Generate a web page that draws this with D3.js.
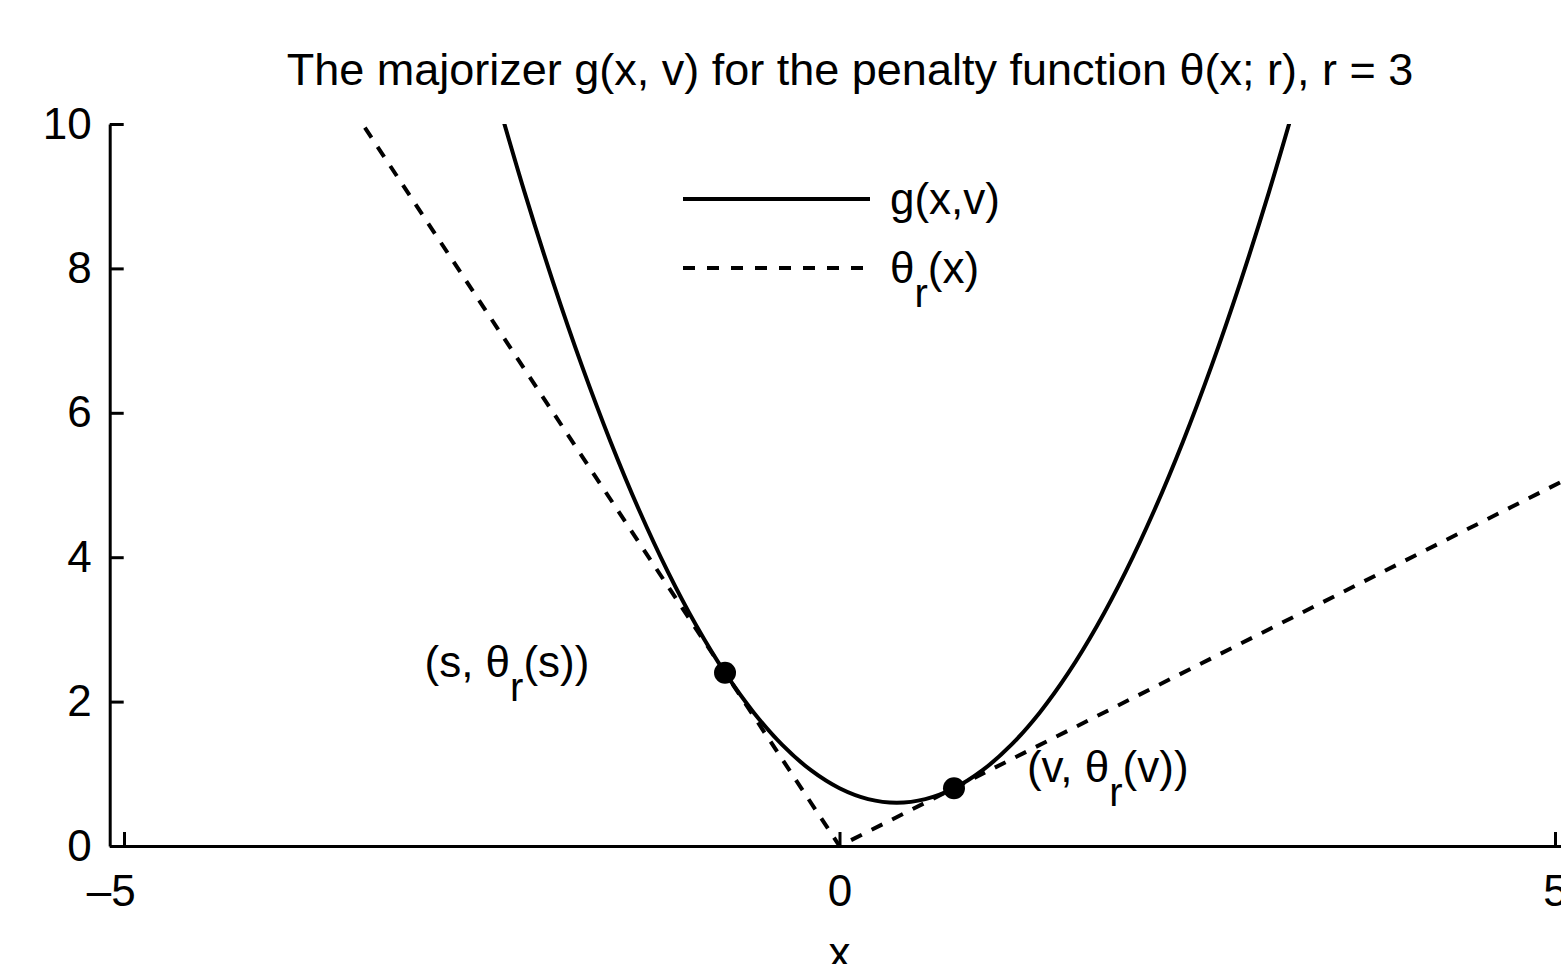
<!DOCTYPE html>
<html>
<head>
<meta charset="utf-8">
<script src="https://cdn.jsdelivr.net/npm/d3@7"></script>
<style>
  html, body { margin: 0; padding: 0; background: #fff; }
  svg { display: block; font-family: "Liberation Sans", Arial, Helvetica, sans-serif; }
</style>
</head>
<body>
<div class="container"></div>
<script>
// majorizer g(x, v)
const gX = [-2.4, -2.2, -2.0, -1.8, -1.6, -1.4, -1.2, -1.0, -0.8, -0.6, -0.4, -0.2, 0, 0.2, 0.4, 0.6, 0.8, 1.0, 1.2, 1.4, 1.6, 1.8, 2.0, 2.2, 2.4, 2.6, 2.8, 3.0, 3.2]
const gY = [10.4, 9.05, 7.8, 6.65, 5.6, 4.65, 3.8, 3.05, 2.4, 1.85, 1.4, 1.05, 0.8, 0.65, 0.6, 0.65, 0.8, 1.05, 1.4, 1.85, 2.4, 3.05, 3.8, 4.65, 5.6, 6.65, 7.8, 9.05, 10.4]

// penalty theta_r(x)
const thetaX = [-5, 0, 5.1]
const thetaY = [15, 0, 5.1]

// touching points s and v
const pointX = [-0.8, 0.8]
const pointY = [2.4, 0.8]
const pointLabel = ['s', 'v']
const labelX = [-2.9, 1.31]
const labelY = [2.55, 1.1]

const xTicks = [-5, 0, 5]
const yTicks = [0, 2, 4, 6, 8, 10]

const width = 1561
const height = 964

const svg = d3.select('.container')
  .append('svg')
  .attr('width', width)
  .attr('height', height)

const x = d3.scaleLinear().domain([-5.1, 5.1]).range([109.7, 1569.3])
const y = d3.scaleLinear().domain([0, 10]).range([846, 124])

svg.append('defs').append('clipPath').attr('id', 'plotclip')
  .append('rect')
  .attr('x', x(-5.1)).attr('y', y(10))
  .attr('width', x(5.1) - x(-5.1)).attr('height', y(0) - y(10))

// axes
const xAxis = d3.axisBottom(x)
  .tickValues(xTicks)
  .tickSizeInner(-14)
  .tickSizeOuter(0)
  .tickPadding(29)
  .tickFormat(d => d < 0 ? '\u2013' + Math.abs(d) : d)

const yAxis = d3.axisLeft(y)
  .tickValues(yTicks)
  .tickSizeInner(-14)
  .tickSizeOuter(0)
  .tickPadding(18)

const gx = svg.append('g')
  .attr('transform', `translate(0, ${y(0)})`)
  .call(xAxis)
const gy = svg.append('g')
  .attr('transform', `translate(${x(-5.1)}, 0)`)
  .call(yAxis)

for (const g of [gx, gy]) {
  g.selectAll('path, line').attr('stroke', '#000').attr('stroke-width', 3)
  g.selectAll('text')
    .attr('fill', '#000')
    .style('font-size', '44px')
    .style('font-family', '"Liberation Sans", Arial, sans-serif')
}
gx.selectAll('text').filter(d => d < 0).attr('dx', '-0.3em')

const plot = svg.append('g').attr('clip-path', 'url(#plotclip)')

const line = d3.line()
  .x(d => x(d[0]))
  .y(d => y(d[1]))

plot.append('path')
  .datum(d3.zip(thetaX, thetaY))
  .attr('d', line)
  .attr('fill', 'none')
  .attr('stroke', '#000')
  .attr('stroke-width', 4)
  .attr('stroke-dasharray', '12,11')

plot.append('path')
  .datum(d3.zip(gX, gY))
  .attr('d', line.curve(d3.curveCatmullRom))
  .attr('fill', 'none')
  .attr('stroke', '#000')
  .attr('stroke-width', 4)

svg.selectAll('circle.pt')
  .data(d3.zip(pointX, pointY))
  .join('circle')
  .attr('class', 'pt')
  .attr('cx', d => x(d[0]))
  .attr('cy', d => y(d[1]))
  .attr('r', 11)
  .attr('fill', '#000')

// "(s, θr(s))" style labels
function subLabel(sel, parts) {
  parts.forEach(p => {
    const t = sel.append('tspan').text(p.t)
    if (p.sub) t.attr('dy', 24).style('font-size', '40px')
    if (p.up) t.attr('dy', -24)
  })
}

d3.zip(labelX, labelY, pointLabel).forEach(([lx, ly, n]) => {
  const t = svg.append('text')
    .attr('x', x(lx))
    .attr('y', y(ly))
    .attr('dy', '0.35em')
    .style('font-size', '44px')
  subLabel(t, [{t: `(${n}, \u03b8`}, {t: 'r', sub: true}, {t: `(${n}))`, up: true}])
})

// title and x label
svg.append('text')
  .attr('x', 850)
  .attr('y', 85)
  .attr('text-anchor', 'middle')
  .style('font-size', '45px')
  .text('The majorizer g(x, v) for the penalty function \u03b8(x; r), r = 3')

svg.append('text')
  .attr('x', x(0))
  .attr('y', 968)
  .attr('text-anchor', 'middle')
  .style('font-size', '44px')
  .text('x')

// legend
const legend = svg.append('g')
legend.append('line')
  .attr('x1', 683).attr('x2', 870).attr('y1', 199).attr('y2', 199)
  .attr('stroke', '#000').attr('stroke-width', 4)
legend.append('text')
  .attr('x', 890).attr('y', 199).attr('dy', '0.35em')
  .style('font-size', '44px')
  .text('g(x,v)')
legend.append('line')
  .attr('x1', 683).attr('x2', 870).attr('y1', 268).attr('y2', 268)
  .attr('stroke', '#000').attr('stroke-width', 4)
  .attr('stroke-dasharray', '12,12')
const lt = legend.append('text')
  .attr('x', 890).attr('y', 268).attr('dy', '0.35em')
  .style('font-size', '44px')
subLabel(lt, [{t: '\u03b8'}, {t: 'r', sub: true}, {t: '(x)', up: true}])
</script>
</body>
</html>
